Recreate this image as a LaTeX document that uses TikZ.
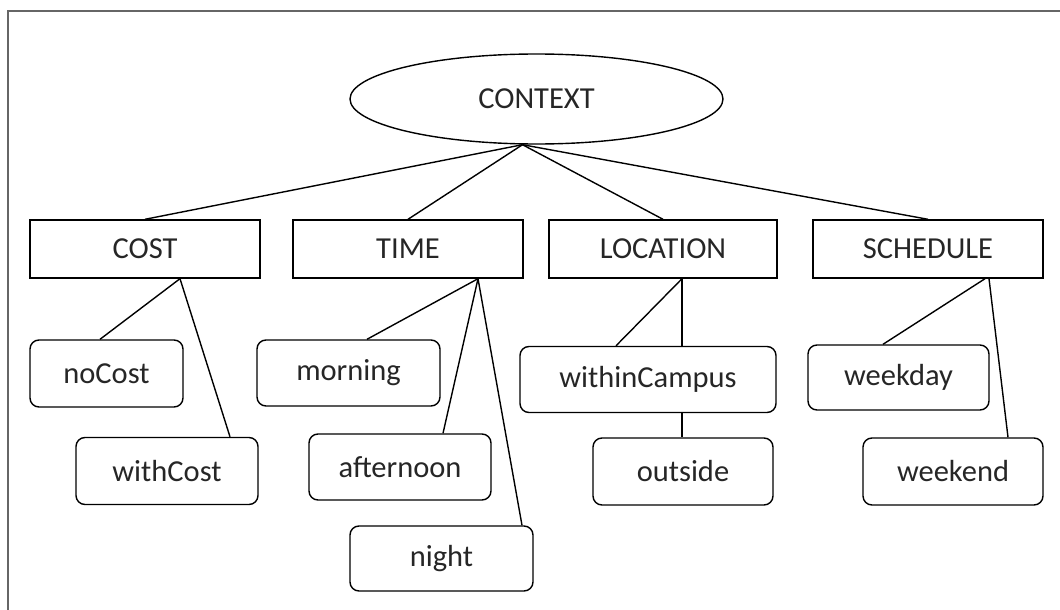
\documentclass[tikz,border=0pt]{standalone}
\usepackage{fontspec}
\setmainfont{Carlito}
\usetikzlibrary{shapes.geometric,calc}
\tikzset{
  base/.style={draw=black, line width=1.4pt, inner sep=0pt, font=\fontsize{30.5}{36}\selectfont, text=black!85},
  sq/.style={base, rectangle},
  rd/.style={base, rectangle, rounded corners=9pt},
  ov/.style={base, ellipse},
  link/.style={draw=black, line width=1.4pt},
  frame/.style={draw=black!60, line width=1.2pt}
}
\begin{document}
\begin{tikzpicture}[x=1pt,y=-1pt]
\useasboundingbox (0,0) rectangle (1060,610);
\coordinate (fA) at (8,610);
\coordinate (fB) at (8,11);
\coordinate (fC) at (1060,11);
\draw[frame] (fA) -- (fB) -- (fC);

\node[ov, minimum width=373pt, minimum height=90pt] (ctx) at (536.5,99) {CONTEXT};

\node[sq, minimum width=230pt, minimum height=58pt] (cost) at (145,249) {COST};
\node[sq, minimum width=230pt, minimum height=58pt] (time) at (408,249) {TIME};
\node[sq, minimum width=228pt, minimum height=58pt] (loc) at (663,249) {LOCATION};
\node[sq, minimum width=230pt, minimum height=58pt] (sch) at (928,249) {SCHEDULE};

\node[rd, minimum width=153pt, minimum height=67pt] (nocost) at (106.5,373.5) {noCost};
\node[rd, minimum width=182pt, minimum height=67pt] (withcost) at (167,471) {withCost};
\node[rd, minimum width=183pt, minimum height=66pt] (morning) at (348.5,373) {morning};
\node[rd, minimum width=182pt, minimum height=66pt] (afternoon) at (400,467) {afternoon};
\node[rd, minimum width=183pt, minimum height=65pt] (night) at (441.5,558.5) {night};
\node[rd, minimum width=256pt, minimum height=66pt] (within) at (648,379.5) {withinCampus};
\node[rd, minimum width=180pt, minimum height=67pt] (outside) at (683,471.5) {outside};
\node[rd, minimum width=181pt, minimum height=65pt] (weekday) at (898.5,377.5) {weekday};
\node[rd, minimum width=180pt, minimum height=67pt] (weekend) at (953,471.5) {weekend};

\coordinate (hub) at ([xshift=-14pt]ctx.south);
\draw[link] (hub) -- (cost.north);
\draw[link] (hub) -- (time.north);
\draw[link] (hub) -- (loc.north);
\draw[link] (hub) -- (sch.north);

\draw[link] ([xshift=35pt]cost.south) -- ([xshift=-6.5pt]nocost.north);
\draw[link] ([xshift=35pt]cost.south) -- ([xshift=63pt]withcost.north);

\draw[link] ([xshift=70pt]time.south) -- ([xshift=18.5pt]morning.north);
\draw[link] ([xshift=70pt]time.south) -- ([xshift=43pt]afternoon.north);
\draw[link] ([xshift=70pt]time.south) -- ([xshift=80.5pt]night.north);

\draw[link] ([xshift=19pt]loc.south) -- ([xshift=-32pt]within.north);
\draw[link] ([xshift=19pt]loc.south) -- ([xshift=34pt]within.north);
\draw[link] ([xshift=34pt]within.south) -- ([xshift=-1pt]outside.north);

\draw[link] ([xshift=57pt]sch.south) -- ([xshift=-15.5pt]weekday.north);
\draw[link] ([xshift=61pt]sch.south) -- ([xshift=55pt]weekend.north);
\end{tikzpicture}
\end{document}
